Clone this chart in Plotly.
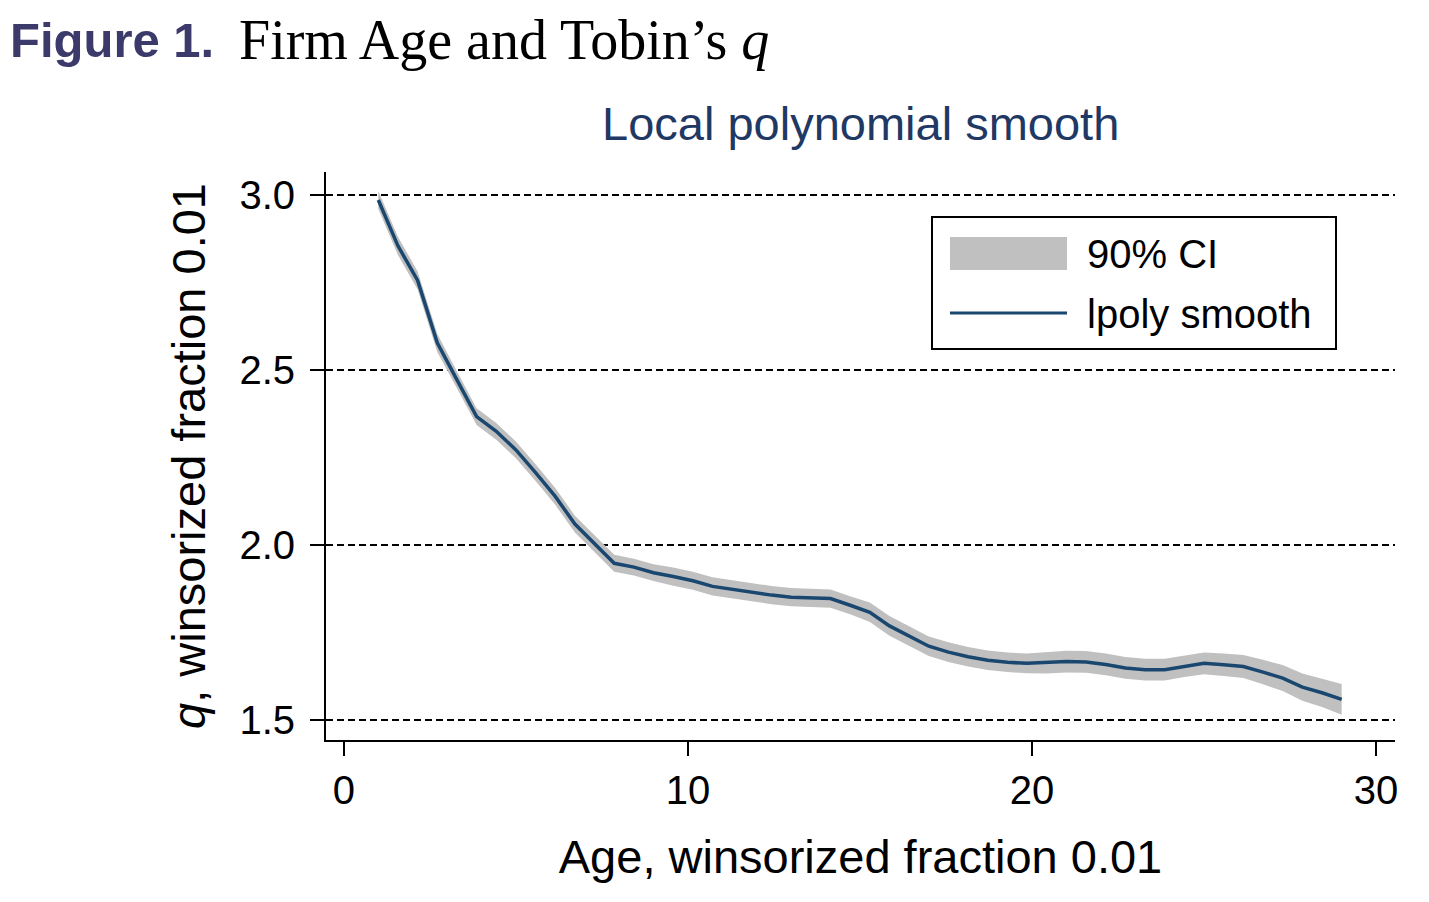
import plotly.graph_objects as go

age = [1.000, 1.571, 2.143, 2.714, 3.286, 3.857, 4.429, 5.000, 5.571, 6.143,
       6.714, 7.286, 7.857, 8.429, 9.000, 9.571, 10.143, 10.714, 11.286, 11.857,
       12.429, 13.000, 13.571, 14.143, 14.714, 15.286, 15.857, 16.429, 17.000, 17.571,
       18.143, 18.714, 19.286, 19.857, 20.429, 21.000, 21.571, 22.143, 22.714, 23.286,
       23.857, 24.429, 25.000, 25.571, 26.143, 26.714, 27.286, 27.857, 28.429, 29.000]

q_smooth = [2.986, 2.855, 2.756, 2.578, 2.472, 2.367, 2.325, 2.272, 2.207, 2.139,
            2.060, 2.004, 1.948, 1.937, 1.921, 1.910, 1.898, 1.882, 1.873, 1.865,
            1.857, 1.851, 1.849, 1.847, 1.828, 1.808, 1.769, 1.740, 1.711, 1.694,
            1.681, 1.671, 1.665, 1.662, 1.664, 1.667, 1.666, 1.659, 1.649, 1.644,
            1.644, 1.654, 1.662, 1.658, 1.653, 1.637, 1.620, 1.594, 1.578, 1.559]

ci_lower = [2.960, 2.829, 2.730, 2.552, 2.448, 2.343, 2.301, 2.248, 2.183, 2.115,
            2.036, 1.980, 1.924, 1.913, 1.897, 1.884, 1.872, 1.856, 1.847, 1.839,
            1.831, 1.825, 1.823, 1.821, 1.802, 1.780, 1.741, 1.712, 1.683, 1.666,
            1.653, 1.643, 1.637, 1.634, 1.633, 1.636, 1.635, 1.628, 1.618, 1.613,
            1.613, 1.623, 1.631, 1.626, 1.620, 1.602, 1.583, 1.555, 1.537, 1.515]

ci_upper = [3.012, 2.881, 2.782, 2.604, 2.496, 2.391, 2.349, 2.296, 2.231, 2.163,
            2.084, 2.028, 1.972, 1.961, 1.945, 1.936, 1.924, 1.908, 1.899, 1.891,
            1.883, 1.877, 1.875, 1.873, 1.854, 1.836, 1.797, 1.768, 1.739, 1.722,
            1.709, 1.699, 1.693, 1.690, 1.695, 1.698, 1.697, 1.690, 1.680, 1.675,
            1.675, 1.685, 1.693, 1.690, 1.686, 1.672, 1.657, 1.633, 1.619, 1.603]

x_ticks = [0, 10, 20, 30]
y_ticks = [1.5, 2.0, 2.5, 3.0]
y_tick_labels = ["1.5", "2.0", "2.5", "3.0"]

LINE_COLOR = "#1a476f"
BAND_COLOR = "#c0c0c0"
SANS = "Liberation Sans, Arial, sans-serif"
SERIF = "Liberation Serif, Times New Roman, serif"

fig = go.Figure()
fig.add_trace(go.Scatter(x=age, y=ci_lower, mode="lines", line=dict(width=0, color=BAND_COLOR),
                         showlegend=False, hoverinfo="skip", name="lower"))
fig.add_trace(go.Scatter(x=age, y=ci_upper, mode="lines", line=dict(width=0, color=BAND_COLOR),
                         fill="tonexty", fillcolor=BAND_COLOR, showlegend=False, name="90% CI"))
fig.add_trace(go.Scatter(x=age, y=q_smooth, mode="lines", line=dict(width=3.5, color=LINE_COLOR),
                         showlegend=False, name="lpoly smooth"))

OFF = 8  # page body margin
W, H = 1421, 894
L, R, T, B = 318, 34, 164, 162
pw, ph = W - L - R, H - T - B

def px(xs):
    return (xs - OFF - L) / pw

def py(ys):
    return (H - B - (ys - OFF)) / ph

fig.update_layout(
    width=W, height=H,
    margin=dict(l=L, r=R, t=T, b=B),
    paper_bgcolor="white", plot_bgcolor="white",
    font=dict(family=SANS, color="black", size=40),
    xaxis=dict(range=[-0.52, 30.55], tickvals=x_ticks, ticks="outside", ticklen=14, tickwidth=2,
               tickcolor="black", showline=True, linecolor="black", linewidth=2, showgrid=False,
               zeroline=False, tickfont=dict(size=40, family=SANS),
               title=dict(text="Age, winsorized fraction 0.01", font=dict(size=47, family=SANS), standoff=29)),
    yaxis=dict(range=[1.443, 3.066], tickvals=y_ticks, ticktext=y_tick_labels, ticks="outside",
               ticklen=14, tickwidth=2, tickcolor="black", showline=True, linecolor="black", linewidth=2,
               showgrid=True, gridcolor="black", gridwidth=2, griddash="7px,4px", zeroline=False,
               tickfont=dict(size=40, family=SANS), ticklabelstandoff=7,
               title=dict(text="<i>q</i>, winsorized fraction 0.01", font=dict(size=47, family=SANS), standoff=19)),
    showlegend=False,
)

annotations = [
    dict(text="<b>Figure 1.</b>", x=px(8), y=py(40), xref="paper", yref="paper", xanchor="left",
         yanchor="middle", showarrow=False, font=dict(family=SANS, size=49, color="#3b3a6b")),
    dict(text="Firm Age and Tobin’s <i>q</i>", x=px(237), y=py(40), xref="paper", yref="paper",
         xanchor="left", yanchor="middle", showarrow=False, font=dict(family=SERIF, size=56, color="black")),
    dict(text="Local polynomial smooth", x=px(860), y=py(124), xref="paper", yref="paper",
         xanchor="center", yanchor="middle", showarrow=False, font=dict(family=SANS, size=47, color="#1f3864")),
    dict(text="90% CI", x=px(1085), y=py(254), xref="paper", yref="paper", xanchor="left",
         yanchor="middle", showarrow=False, font=dict(family=SANS, size=40, color="black")),
    dict(text="lpoly smooth", x=px(1085), y=py(314), xref="paper", yref="paper", xanchor="left",
         yanchor="middle", showarrow=False, font=dict(family=SANS, size=40, color="black")),
]
fig.update_layout(annotations=annotations)

shapes = [
    dict(type="rect", xref="paper", yref="paper", x0=px(932), x1=px(1336), y0=py(349), y1=py(217),
         line=dict(color="black", width=2), fillcolor="white", layer="above"),
    dict(type="rect", xref="paper", yref="paper", x0=px(950), x1=px(1067), y0=py(270), y1=py(237),
         line=dict(width=0), fillcolor=BAND_COLOR, layer="above"),
    dict(type="line", xref="paper", yref="paper", x0=px(950), x1=px(1067), y0=py(313), y1=py(313),
         line=dict(color=LINE_COLOR, width=3), layer="above"),
]
fig.update_layout(shapes=shapes)

fig.write_html("out.html")
